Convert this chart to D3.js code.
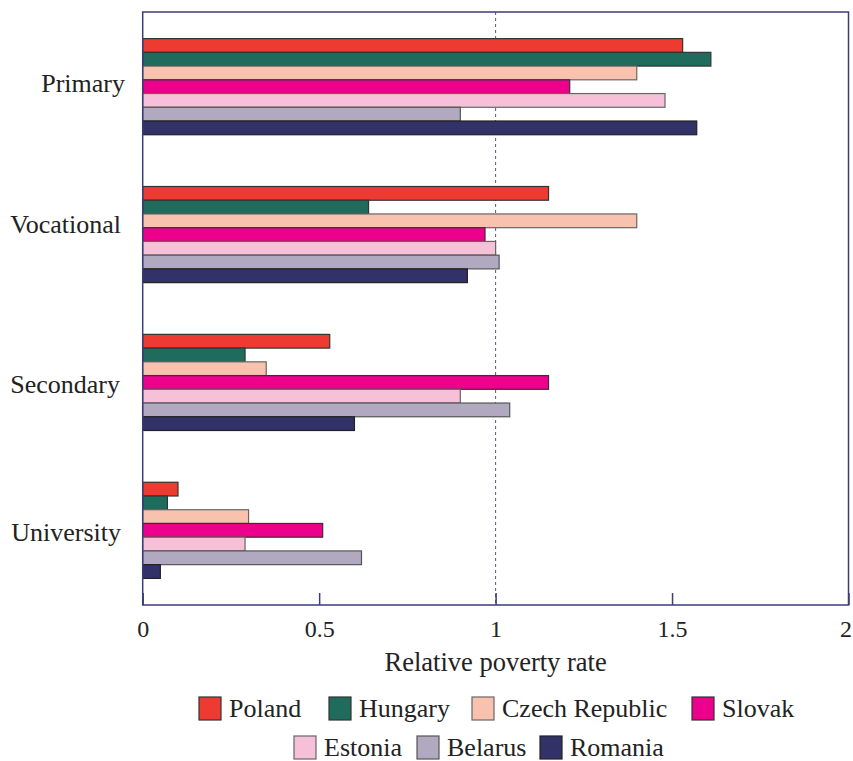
<!DOCTYPE html>
<html><head><meta charset="utf-8">
<script src="https://cdn.jsdelivr.net/npm/d3@7"></script>
<style>body{margin:0;background:#fff}svg{display:block}</style>
</head><body>
<svg id="c" width="853" height="761"></svg>
<script>
const categories = ["Primary", "Vocational", "Secondary", "University"];
const countries = ["Poland", "Hungary", "Czech Republic", "Slovak", "Estonia", "Belarus", "Romania"];
const poland   = [1.53, 1.15, 0.53, 0.10];
const hungary  = [1.61, 0.64, 0.29, 0.07];
const czech    = [1.40, 1.40, 0.35, 0.30];
const slovak   = [1.21, 0.97, 1.15, 0.51];
const estonia  = [1.48, 1.00, 0.90, 0.29];
const belarus  = [0.90, 1.01, 1.04, 0.62];
const romania  = [1.57, 0.92, 0.60, 0.05];
const xTicks = [0, 0.5, 1, 1.5, 2];
const xTickLabels = ["0", "0.5", "1", "1.5", "2"];
const colors = ["#EE3B31", "#1F6B5C", "#F9C2AE", "#EC008C", "#F5C0D8", "#B1A9C0", "#323268"];
const strokes = ["#333", "#333", "#666", "#333", "#666", "#555", "#222"];

const series = [poland, hungary, czech, slovak, estonia, belarus, romania];
const svg = d3.select("#c");
const L = 142.7, R = 848.5, T = 12, B = 605;
const font = "'Liberation Serif', 'DejaVu Serif', serif";
const labelShift = [5, -2, 11, 11]; // baseline shift of category labels from band centre
const labelRight = [125, 121, 120, 121];

const x = d3.scaleLinear().domain([0, 2]).range([L, R]);
const y0 = d3.scaleBand().domain(categories).range([T, B]).paddingInner(0.35).paddingOuter(0.18);
const y1 = d3.scaleBand().domain(countries).range([0, y0.bandwidth()]);

// dashed reference line
svg.append("line").attr("x1", x(1)).attr("x2", x(1)).attr("y1", T).attr("y2", B)
  .attr("stroke", "#5a5a80").attr("stroke-width", 1).attr("stroke-dasharray", "3,3");

const g = svg.append("g");
categories.forEach((cat, ci) => {
  countries.forEach((co, si) => {
    g.append("rect")
      .attr("x", x(0))
      .attr("y", y0(cat) + y1(co))
      .attr("width", x(series[si][ci]) - x(0))
      .attr("height", y1.bandwidth())
      .attr("fill", colors[si])
      .attr("stroke", strokes[si]).attr("stroke-width", 1.2);
  });
});

// frame
svg.append("rect").attr("x", L).attr("y", T).attr("width", R - L).attr("height", B - T)
  .attr("fill", "none").attr("stroke", "#3c3c78").attr("stroke-width", 1.5);

// bottom axis (ticks inward)
const ax = svg.append("g").attr("transform", `translate(0,${B})`)
  .call(d3.axisBottom(x).tickValues(xTicks).tickFormat((d, i) => xTickLabels[i]).tickSize(-12).tickPadding(0));
ax.select(".domain").remove();
ax.selectAll(".tick line").attr("stroke", "#3c3c78").attr("stroke-width", 1.5);
ax.selectAll(".tick text").attr("fill", "#222").attr("font-family", font).attr("font-size", 24)
  .attr("y", 32).attr("dy", 0)
  .attr("dx", (d, i) => i === xTicks.length - 1 ? -3 : 0);

// category labels
svg.append("g").selectAll("text").data(categories).join("text")
  .attr("x", (d, i) => labelRight[i]).attr("y", (d, i) => y0(d) + y0.bandwidth() / 2 + labelShift[i])
  .attr("text-anchor", "end")
  .attr("font-family", font).attr("font-size", 26).attr("fill", "#222").text(d => d);

// axis title
svg.append("text").attr("x", x(1)).attr("y", 671).attr("text-anchor", "middle")
  .attr("font-family", font).attr("font-size", 26.5).attr("fill", "#222").text("Relative poverty rate");

// legend
const legendPos = [
  {sx: 199, row: 0}, {sx: 329, row: 0}, {sx: 472, row: 0}, {sx: 692, row: 0},
  {sx: 294, row: 1}, {sx: 417, row: 1}, {sx: 540, row: 1}
];
const rowsY = [697, 736];
const lg = svg.append("g");
countries.forEach((co, i) => {
  const p = legendPos[i];
  lg.append("rect").attr("x", p.sx).attr("y", rowsY[p.row]).attr("width", 22).attr("height", 23)
    .attr("fill", colors[i]).attr("stroke", strokes[i]).attr("stroke-width", 1.2);
  lg.append("text").attr("x", p.sx + 30).attr("y", rowsY[p.row] + 20)
    .attr("font-family", font).attr("font-size", 26).attr("fill", "#222").text(co);
});
</script>
</body></html>
